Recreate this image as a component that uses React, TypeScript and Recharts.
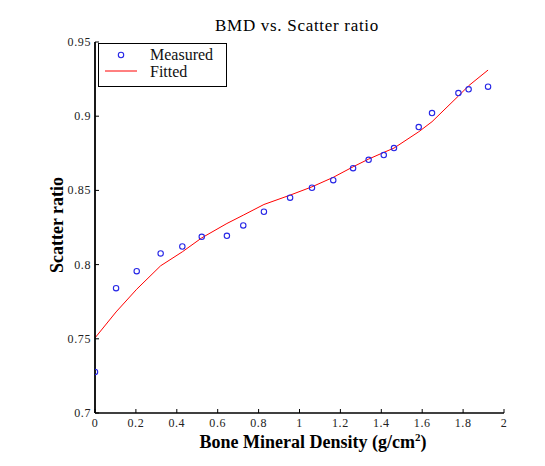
import React from 'react';
import { ComposedChart, Line, Scatter, XAxis, YAxis } from 'recharts';

const bmd = [0, 0.103, 0.204, 0.321, 0.427, 0.522, 0.645, 0.725, 0.826, 0.954, 1.061, 1.165, 1.262, 1.338, 1.412, 1.462, 1.583, 1.648, 1.777, 1.827, 1.922];
const measured = [0.7277, 0.7841, 0.7956, 0.8075, 0.8122, 0.8187, 0.8194, 0.8264, 0.8356, 0.8451, 0.8518, 0.8569, 0.865, 0.8706, 0.8738, 0.8785, 0.8927, 0.9021, 0.9156, 0.9181, 0.9199];
const fitted = [0.7506, 0.7681, 0.7834, 0.7992, 0.8086, 0.818, 0.8277, 0.8333, 0.8405, 0.8468, 0.8524, 0.8588, 0.8659, 0.8711, 0.8756, 0.8785, 0.8895, 0.8963, 0.9136, 0.9205, 0.9311];
const xTicks = [0, 0.2, 0.4, 0.6, 0.8, 1, 1.2, 1.4, 1.6, 1.8, 2];
const yTicks = [0.7, 0.75, 0.8, 0.85, 0.9, 0.95];

const data = bmd.map((x, i) => ({ x, measured: measured[i], fitted: fitted[i] }));

const SERIF = '"Liberation Serif", "Times New Roman", serif';
const fmt = (v: number) => String(+v.toFixed(2));
const TL = 4;

const BottomTick = (p: any) => (
  <g>
    <line x1={p.x} x2={p.x} y1={p.y} y2={p.y - TL} stroke="#000" />
    <text x={p.x} y={p.y + 14} textAnchor="middle" fontFamily={SERIF} fontSize={12} letterSpacing={0.6} fill="#222">{fmt(p.payload.value)}</text>
  </g>
);
const TopTick = (p: any) => (
  <line x1={p.x} x2={p.x} y1={p.y} y2={p.y + TL} stroke="#000" />
);
const LeftTick = (p: any) => (
  <g>
    <line x1={p.x} x2={p.x + TL} y1={p.y} y2={p.y} stroke="#000" />
    <text x={p.x - 4} y={p.y + 4} textAnchor="end" fontFamily={SERIF} fontSize={12} letterSpacing={0.6} fill="#222">{fmt(p.payload.value)}</text>
  </g>
);
const RightTick = (p: any) => (
  <line x1={p.x} x2={p.x - TL} y1={p.y} y2={p.y} stroke="#000" />
);

const Circle = (p: any) => (
  <circle cx={p.cx} cy={p.cy} r={2.7} fill="none" stroke="#2626e6" strokeWidth={1.1} />
);

const LegendBox = () => (
  <div style={{ position: 'absolute', left: 98, top: 43, width: 127, height: 42, border: '1px solid #000', background: '#fff', fontFamily: SERIF, fontSize: 16, color: '#111' }}>
    <svg width={50} height={42} style={{ position: 'absolute', left: 0, top: 0 }}>
      <circle cx={22} cy={11} r={2.7} fill="none" stroke="#2626e6" strokeWidth={1.1} />
      <line x1={6} x2={38} y1={27} y2={27} stroke="#ff0000" strokeWidth={1} />
    </svg>
    <div style={{ position: 'absolute', left: 51, top: 2, lineHeight: '18px' }}>Measured</div>
    <div style={{ position: 'absolute', left: 51, top: 19, lineHeight: '18px' }}>Fitted</div>
  </div>
);

export default function App() {
  return (
    <div style={{ position: 'absolute', left: 0, top: 0, width: 545, height: 466, background: '#fff' }}>
      <ComposedChart width={545} height={466} data={data} margin={{ top: 42, right: 41, bottom: 28, left: 40 }}>
        <XAxis xAxisId="b" dataKey="x" type="number" domain={[0, 2]} ticks={xTicks} interval={0} orientation="bottom" height={25}
          tickSize={0} tickMargin={0} tickLine={false} tick={<BottomTick />} axisLine={{ stroke: '#000', strokeWidth: 1.5 }} allowDataOverflow />
        <XAxis xAxisId="t" dataKey="x" type="number" domain={[0, 2]} ticks={xTicks} interval={0} orientation="top" height={0}
          tickSize={0} tickMargin={0} tickLine={false} tick={<TopTick />} axisLine={{ stroke: '#000', strokeWidth: 1.2 }} allowDataOverflow />
        <YAxis yAxisId="l" type="number" domain={[0.7, 0.95]} ticks={yTicks} interval={0} orientation="left" width={55}
          tickSize={0} tickMargin={0} tickLine={false} tick={<LeftTick />} axisLine={{ stroke: '#000', strokeWidth: 1.8 }} allowDataOverflow />
        <YAxis yAxisId="r" type="number" domain={[0.7, 0.95]} ticks={yTicks} interval={0} orientation="right" width={0}
          tickSize={0} tickMargin={0} tickLine={false} tick={<RightTick />} axisLine={{ stroke: '#444', strokeWidth: 1.6 }} allowDataOverflow />
        <Line xAxisId="b" yAxisId="l" dataKey="fitted" type="linear" stroke="#ff0000" strokeWidth={1} dot={false} activeDot={false} isAnimationActive={false} name="Fitted" />
        <Scatter xAxisId="b" yAxisId="l" dataKey="measured" shape={<Circle />} isAnimationActive={false} name="Measured" />
        <Line xAxisId="t" yAxisId="r" dataKey="fitted" stroke="none" dot={false} activeDot={false} isAnimationActive={false} legendType="none" />
        <text x={297} y={31} textAnchor="middle" fontFamily={SERIF} fontSize={17} letterSpacing={0.7} fill="#000">BMD vs. Scatter ratio</text>
        <text x={313} y={448} textAnchor="middle" fontFamily={SERIF} fontSize={18} fontWeight="bold" fill="#000">
          Bone Mineral Density (g/cm<tspan fontSize={11} dy={-7}>2</tspan><tspan dy={7}>)</tspan>
        </text>
        <text x={0} y={0} transform="translate(63,225) rotate(-90)" textAnchor="middle" fontFamily={SERIF} fontSize={18} fontWeight="bold" fill="#000">Scatter ratio</text>
      </ComposedChart>
      <LegendBox />
    </div>
  );
}
